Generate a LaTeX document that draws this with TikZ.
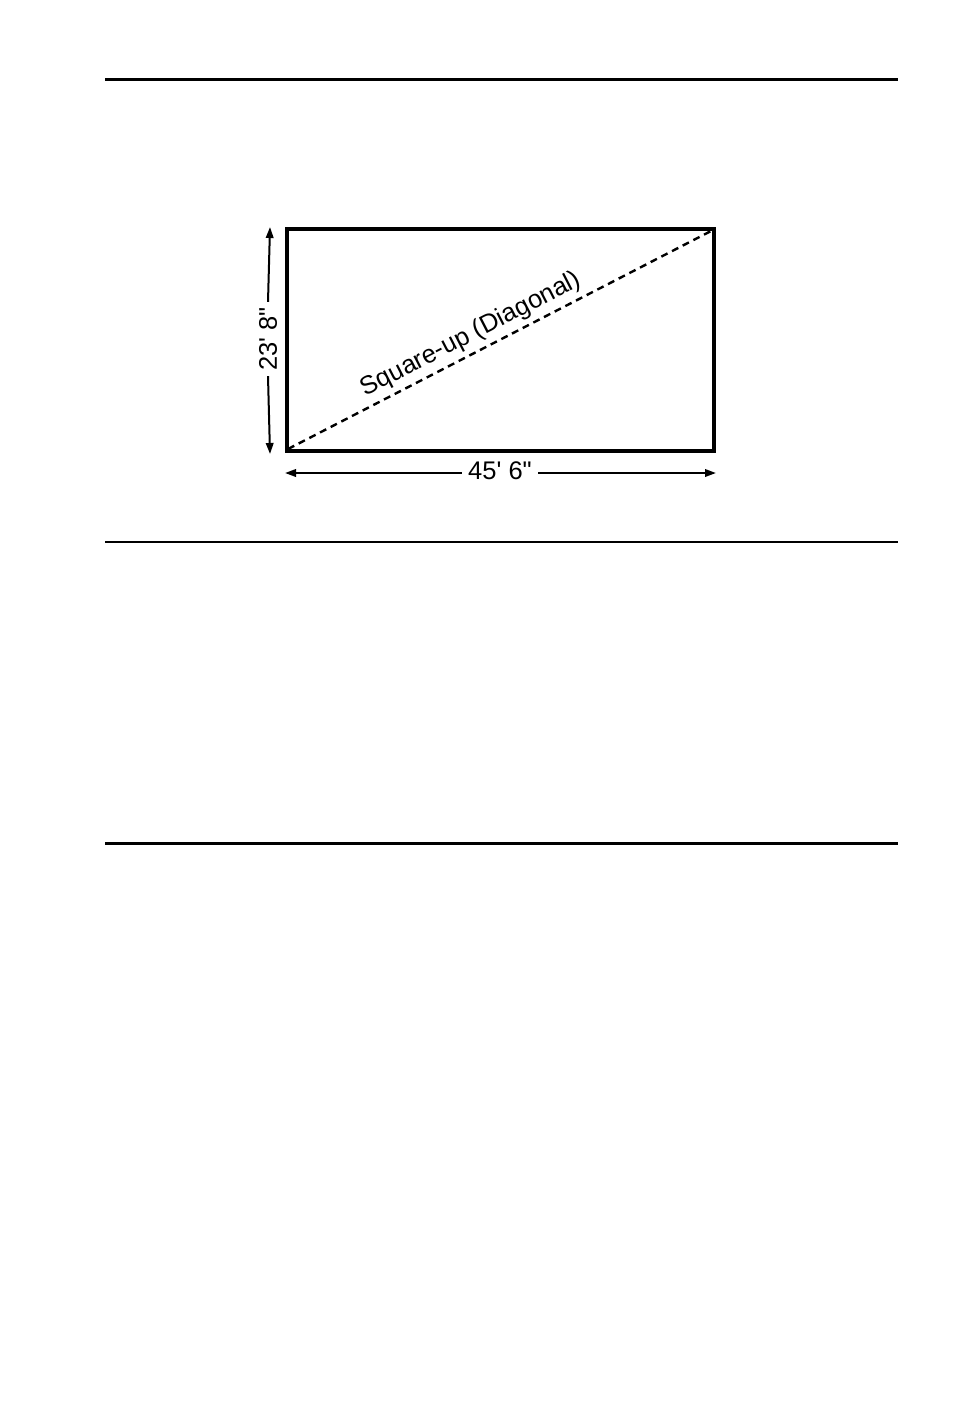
\documentclass[tikz,border=0pt]{standalone}
\usepackage{fontspec}
\setmainfont{Liberation Sans}
\usetikzlibrary{arrows.meta}
\begin{document}
\begin{tikzpicture}[x=1pt,y=-1pt,
  rule/.style={line width=#1},
  frame/.style={line width=3.2pt, line join=miter},
  diag/.style={line width=2.4pt, dash pattern=on 7pt off 5pt},
  dimline/.style={line width=2pt, -{Triangle[length=11pt,width=7.5pt]}},
  dimlabel/.style={font=\fontsize{25.5}{30}\selectfont, inner sep=0pt},
  diaglabel/.style={font=\fontsize{25.5}{30}\selectfont, inner sep=4.5pt}]
\useasboundingbox (0,0) rectangle (954,1414);
% rules
\coordinate (r1a) at (105,79); \coordinate (r1b) at (898,79);
\coordinate (r2a) at (105,542); \coordinate (r2b) at (898,542);
\coordinate (r3a) at (105,843); \coordinate (r3b) at (898,843);
\draw[rule=3pt] (r1a) -- (r1b);
\draw[rule=1.2pt] (r2a) -- (r2b);
\draw[rule=3pt] (r3a) -- (r3b);
% rectangle
\coordinate (bl) at (287,451);
\coordinate (tr) at (714,229);
\draw[frame] (bl) rectangle (tr);
% diagonal
\draw[diag] (288,449) -- node[pos=0.45, sloped, above, diaglabel] (dl) {Square-up (Diagonal)} (713,230);
% vertical dimension
\coordinate (vtop) at (270,227);
\coordinate (vbot) at (270,454);
\node[dimlabel, rotate=90, minimum width=74pt] (vl) at (268,339) {23\textquotesingle\ 8\textquotedbl};
\draw[dimline] (vl.east) -- (vtop);
\draw[dimline] (vl.west) -- (vbot);
% horizontal dimension
\coordinate (hl0) at (285,473);
\coordinate (hr0) at (716,473);
\node[dimlabel, minimum width=76pt] (hl) at (500,471) {45\textquotesingle\ 6\textquotedbl};
\draw[dimline] (hl.west |- hl0) -- (hl0);
\draw[dimline] (hl.east |- hr0) -- (hr0);
\end{tikzpicture}
\end{document}
